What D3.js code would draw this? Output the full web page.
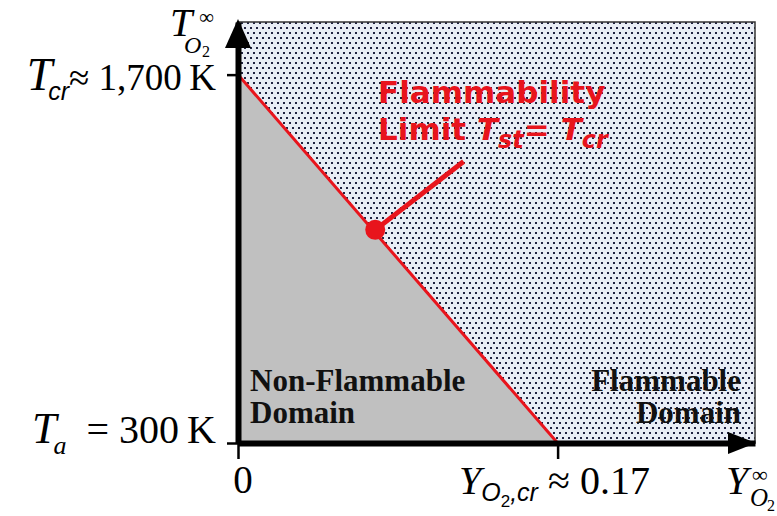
<!DOCTYPE html>
<html>
<head>
<meta charset="utf-8">
<script src="https://cdn.jsdelivr.net/npm/d3@7"></script>
<style>
  body { margin: 0; background: #fff; }
  text { white-space: pre; }
</style>
</head>
<body>
<div id="chart"></div>
<script>
// flammability limit line, oxygen mass fraction vs. oxidizer temperature
var limitY = [0, 0.17];
var limitT = [1700, 300];
var xTicks = [0, 0.17];
var yTicks = [300, 1700];
var marker = [0.073, 1110];      // point picked out by the callout
var calloutEnd = [0.12, 1370];
var xDomain = [0, 0.275], yDomain = [300, 1900];

var width = 777, height = 516;
var serif = "Liberation Serif", sans = "Liberation Sans";
var red = "#e8141c";

var svg = d3.select("#chart").append("svg")
    .attr("width", width)
    .attr("height", height);

var x = d3.scaleLinear().domain(xDomain).range([238, 755]);
var y = d3.scaleLinear().domain(yDomain).range([443, 22]);

// dotted background
var pat = svg.append("defs").append("pattern")
    .attr("id", "dots")
    .attr("patternUnits", "userSpaceOnUse")
    .attr("width", 6).attr("height", 10);
pat.append("rect").attr("width", 6).attr("height", 10).attr("fill", "#e8edf5");
pat.append("rect").attr("x", 1).attr("y", 2).attr("width", 2).attr("height", 2).attr("fill", "#1e2140");
pat.append("rect").attr("x", 4).attr("y", 7).attr("width", 2).attr("height", 2).attr("fill", "#1e2140");

svg.append("rect")
    .attr("x", x(xDomain[0])).attr("y", y(yDomain[1]))
    .attr("width", x(xDomain[1]) - x(xDomain[0]))
    .attr("height", y(yDomain[0]) - y(yDomain[1]))
    .attr("fill", "url(#dots)")
    .attr("stroke", "#333")
    .attr("stroke-width", 1.5);

// non-flammable triangle
var tri = limitY.map(function(d, i) { return [d, limitT[i]]; });
tri.push([limitY[0], limitT[1]]);
var line = d3.line().x(function(d) { return x(d[0]); }).y(function(d) { return y(d[1]); });
svg.append("path")
    .attr("d", line(tri) + "Z")
    .attr("fill", "#c0c0c0");

svg.append("path")
    .attr("d", line(tri.slice(0, 2)))
    .attr("stroke", red)
    .attr("stroke-width", 3)
    .attr("fill", "none");

// axes
var yAxis = svg.append("g")
    .attr("transform", "translate(" + x(0) + ",0)")
    .call(d3.axisLeft(y).tickValues(yTicks).tickSize(11).tickSizeOuter(0).tickFormat(""));
yAxis.select(".domain").attr("stroke-width", 6);
yAxis.selectAll(".tick line").attr("stroke-width", 2.5);

var xAxis = svg.append("g")
    .attr("transform", "translate(0," + y(300) + ")")
    .call(d3.axisBottom(x).tickValues(xTicks).tickSize(16).tickSizeOuter(0).tickFormat(""));
xAxis.select(".domain").attr("stroke-width", 6);
xAxis.selectAll(".tick line").attr("stroke-width", 2.5);

// arrow heads
svg.append("path")
    .attr("d", "M" + x(0) + ",19 L" + (x(0) - 13) + ",48 L" + (x(0) + 13) + ",48 Z")
    .attr("fill", "#000");
svg.append("path")
    .attr("d", "M756," + y(300) + " L728," + (y(300) - 11) + " L728," + (y(300) + 11) + " Z")
    .attr("fill", "#000");

// callout
svg.append("line")
    .attr("x1", x(marker[0])).attr("y1", y(marker[1]))
    .attr("x2", x(calloutEnd[0])).attr("y2", y(calloutEnd[1]))
    .attr("stroke", red).attr("stroke-width", 5);
svg.append("circle")
    .attr("cx", x(marker[0])).attr("cy", y(marker[1]))
    .attr("r", 10).attr("fill", red);

svg.append("text").attr("x", 378).attr("y", 103)
    .attr("font-family", "DejaVu Sans").attr("font-weight", "bold")
    .attr("font-size", 31).attr("fill", red).text("Flammability");
var t2 = svg.append("text").attr("x", 378).attr("y", 140)
    .attr("font-family", "DejaVu Sans").attr("font-weight", "bold")
    .attr("font-size", 31).attr("fill", red);
t2.append("tspan").text("Limit ");
t2.append("tspan").attr("font-style", "italic").text("T");
t2.append("tspan").attr("font-style", "italic").attr("font-size", 24).attr("dy", 8).text("st");
t2.append("tspan").attr("dy", -8).text("= ");
t2.append("tspan").attr("font-style", "italic").text("T");
t2.append("tspan").attr("font-style", "italic").attr("font-size", 24).attr("dy", 8).text("cr");

// domain labels
function domainLabel(lines, px, anchor) {
  lines.forEach(function(s, i) {
    svg.append("text").attr("x", px).attr("y", 391 + i * 32)
      .attr("text-anchor", anchor)
      .attr("font-family", serif).attr("font-weight", "bold")
      .attr("font-size", 31).attr("fill", "#111").text(s);
  });
}
domainLabel(["Non-Flammable", "Domain"], 250, "start");
domainLabel(["Flammable", "Domain"], 741, "end");

// y tick labels
var fmt = d3.format(",");
var lt = svg.append("text").attr("x", 216).attr("y", y(yTicks[1]) + 15)
    .attr("text-anchor", "end").attr("font-family", serif).attr("font-size", 37);
lt.append("tspan").attr("font-style", "italic").attr("font-size", 46).text("T");
lt.append("tspan").attr("font-family", sans).attr("font-style", "italic").attr("font-size", 25)
    .attr("dx", -4).attr("dy", 10).text("cr");
lt.append("tspan").attr("dy", -10).text("\u2248 " + fmt(yTicks[1]) + "\u2009K");

var la = svg.append("text").attr("x", 216).attr("y", y(yTicks[0]))
    .attr("text-anchor", "end").attr("font-family", serif).attr("font-size", 40);
la.append("tspan").attr("font-style", "italic").attr("font-size", 44).text("T");
la.append("tspan").attr("font-style", "italic").attr("font-size", 26).attr("dx", -3).attr("dy", 11).text("a");
la.append("tspan").attr("dy", -11).text("  = " + yTicks[0] + "\u2009K");

// x tick labels
svg.append("text").attr("x", x(xTicks[0]) + 5).attr("y", 493)
    .attr("text-anchor", "middle").attr("font-family", serif).attr("font-size", 39)
    .text(xTicks[0]);

var lx = svg.append("text").attr("x", 459).attr("y", 494)
    .attr("font-family", serif).attr("font-size", 40);
lx.append("tspan").attr("font-style", "italic").text("Y");
lx.append("tspan").attr("font-family", sans).attr("font-style", "italic").attr("font-size", 25).attr("dy", 7).text("O");
lx.append("tspan").attr("font-family", sans).attr("font-size", 17).attr("dy", 6).text("2");
lx.append("tspan").attr("font-family", sans).attr("font-style", "italic").attr("font-size", 25).attr("dy", -6).text(",cr");
lx.append("tspan").attr("dy", -7).text(" \u2248 " + d3.format(".2f")(xTicks[1]));

// axis titles
var tt = svg.append("g").attr("font-family", serif).attr("font-style", "italic");
tt.append("text").attr("x", 170).attr("y", 36).attr("font-size", 40).text("T");
tt.append("text").attr("x", 184).attr("y", 53).attr("font-size", 24).text("O");
tt.append("text").attr("x", 202).attr("y", 57).attr("font-size", 16).attr("font-style", "normal").text("2");
tt.append("text").attr("x", 199).attr("y", 24).attr("font-size", 21).attr("font-style", "normal").text("\u221e");

var yt = svg.append("g").attr("font-family", serif).attr("font-style", "italic");
yt.append("text").attr("x", 726).attr("y", 494).attr("font-size", 40).text("Y");
yt.append("text").attr("x", 750).attr("y", 506).attr("font-size", 25).text("O");
yt.append("text").attr("x", 767).attr("y", 511).attr("font-size", 16).attr("font-style", "normal").text("2");
yt.append("text").attr("x", 752).attr("y", 482).attr("font-size", 22).attr("font-style", "normal").text("\u221e");
</script>
</body>
</html>
